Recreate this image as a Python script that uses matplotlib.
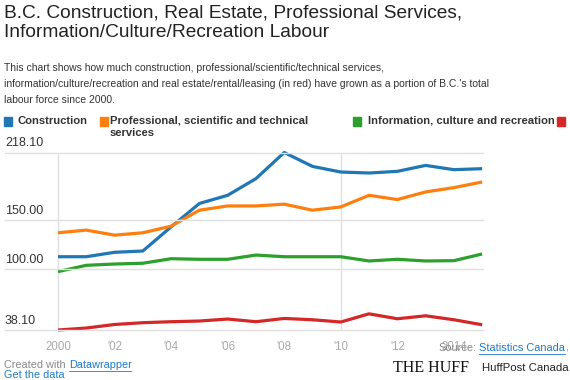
import matplotlib
matplotlib.use("Agg")
import matplotlib.pyplot as plt
import matplotlib.transforms as mtransforms

years = list(range(2000, 2016))
construction = [112.4, 112.4, 116.9, 118.2, 142.7, 166.4, 174.7, 191.6, 218.1,
                204.0, 198.3, 197.3, 199.0, 205.0, 200.7, 201.7]
professional = [136.7, 139.4, 134.3, 136.7, 143.4, 159.6, 163.9, 163.9, 165.7,
                159.6, 162.9, 174.7, 170.4, 178.1, 182.5, 188.2]
information = [97.3, 103.7, 105.0, 105.8, 110.4, 109.8, 109.8, 114.1, 112.4,
               112.4, 112.4, 108.1, 109.8, 108.1, 108.4, 115.2]
real_estate = [38.1, 40.1, 43.7, 45.5, 46.5, 47.2, 49.2, 46.5, 49.8,
               48.5, 46.2, 54.5, 49.5, 52.5, 48.5, 43.4]

series_names = ["Construction", "Professional, scientific and technical\nservices",
                "Information, culture and recreation", "Real estate, rental and leasing"]
series_values = [construction, professional, information, real_estate]
colors = ["#1f77b4", "#ff7f0e", "#2ca02c", "#d62728"]

y_ticks = [38.1, 100.0, 150.0, 218.1]
y_tick_labels = ["38.10", "100.00", "150.00", "218.10"]
x_ticks = [2000, 2002, 2004, 2006, 2008, 2010, 2012, 2014]
x_tick_labels = ["2000", "'02", "'04", "'06", "'08", "'10", "'12", "2014"]

W, H = 570, 380
fig = plt.figure(figsize=(W / 100, H / 100), dpi=100)
fig.patch.set_facecolor("white")
FONT = "Liberation Sans"
LINK = "#1f7bc4"

def fx(x):
    return x / W

def fy(y):
    return 1 - y / H

# axes placement (pixels)
ax_l, ax_r, ax_t, ax_b = 58, 483, 152.5, 330
ax = fig.add_axes([fx(ax_l), fy(ax_b), fx(ax_r - ax_l), (ax_b - ax_t) / H])
ax.set_xlim(2000, 2015.03)
ax.set_ylim(38.1, 218.1)
ax.axis("off")

# horizontal gridlines extending to the left edge
blend = mtransforms.blended_transform_factory(fig.transFigure, ax.transData)
for t in y_ticks:
    fig.add_artist(plt.Line2D([fx(5), fx(ax_r)], [t, t], color="#e0e0e0", lw=1.0,
                              zorder=1, transform=blend))
# vertical gridlines
for xv in [2000, 2010]:
    ax.plot([xv, xv], [38.1, 218.1], color="#e0e0e0", lw=1.0, clip_on=False, zorder=1)

for vals, c in zip(series_values, colors):
    ax.plot(years, vals, color=c, lw=2.3, clip_on=False, zorder=3,
            solid_joinstyle="round", solid_capstyle="butt")

# y tick labels (above gridlines, left side)
for t, lab in zip(y_ticks, y_tick_labels):
    ax.annotate(lab, xy=(fx(5), t), xycoords=("figure fraction", "data"),
                xytext=(0, 2.2), textcoords="offset points",
                ha="left", va="bottom", fontsize=9.0, color="#333333", family=FONT)

# x tick labels
for xv, lab in zip(x_ticks, x_tick_labels):
    ax.annotate(lab, xy=(xv, 38.1), xycoords="data", xytext=(0, -12),
                textcoords="offset points", ha="center", va="center",
                fontsize=8.3, color="#aaaaaa", family=FONT)

# title
fig.text(fx(4), fy(4), "B.C. Construction, Real Estate, Professional Services,\nInformation/Culture/Recreation Labour",
         ha="left", va="top", fontsize=13.8, color="#222222", family=FONT, linespacing=1.22)

# subtitle
fig.text(fx(4), fy(63), "This chart shows how much construction, professional/scientific/technical services,\n"
         "information/culture/recreation and real estate/rental/leasing (in red) have grown as a portion of B.C.'s total\n"
         "labour force since 2000.",
         ha="left", va="top", fontsize=7.5, color="#333333", family=FONT, linespacing=1.72)

# legend
leg_items = [(4, 18), (100, 110), (352.5, 367.5), (557, None)]
for (sx, tx), name, c in zip(leg_items, series_names, colors):
    fig.patches.append(plt.Rectangle((fx(sx), fy(125.5)), fx(8.3), 8.5 / H,
                                     transform=fig.transFigure, color=c, figure=fig))
    if tx is not None:
        fig.text(fx(tx), fy(115.5), name, ha="left", va="top", fontsize=8.15,
                 fontweight="bold", color="#333333", family=FONT, linespacing=1.25)

renderer = fig.canvas.get_renderer()

def text_width_px(t):
    return t.get_window_extent(renderer).width

# footer
FS = 7.8
t1 = fig.text(fx(4), fy(365), "Created with", ha="left", va="center", fontsize=FS,
              color="#888888", family=FONT)
x_dw = 4 + text_width_px(t1) + 3
t2 = fig.text(fx(x_dw), fy(365), "Datawrapper", ha="left", va="center", fontsize=FS,
              color=LINK, family=FONT)
t3 = fig.text(fx(4), fy(374.5), "Get the data", ha="left", va="center", fontsize=FS,
              color=LINK, family=FONT)
fig.add_artist(plt.Line2D([fx(x_dw), fx(x_dw + text_width_px(t2))], [fy(370.5), fy(370.5)],
                          color=LINK, lw=0.6))
fig.add_artist(plt.Line2D([fx(4), fx(4 + text_width_px(t3))], [fy(379.6), fy(379.6)],
                          color=LINK, lw=0.6))

FS2 = 7.9
s1 = fig.text(fx(438), fy(348), "Source:", ha="left", va="center", fontsize=FS2,
              color="#888888", family=FONT)
x_sc = 438 + text_width_px(s1) + 3
s2 = fig.text(fx(x_sc), fy(348), "Statistics Canada", ha="left", va="center", fontsize=FS2,
              color=LINK, family=FONT)
w2 = text_width_px(s2)
fig.text(fx(x_sc + w2 + 0.5), fy(348), ",", ha="left", va="center", fontsize=FS2,
         color="#888888", family=FONT)
fig.add_artist(plt.Line2D([fx(x_sc), fx(x_sc + w2)], [fy(353.5), fy(353.5)], color=LINK, lw=0.6))

fig.text(fx(393), fy(368.5), "THE HUFF", ha="left", va="center", fontsize=11.5,
         color="#111111", family="Liberation Serif")
fig.text(fx(482), fy(368), "HuffPost Canada", ha="left", va="center", fontsize=8.2,
         color="#222222", family=FONT,
         bbox=dict(facecolor="white", edgecolor="none", pad=0.8))

fig.savefig("out.png", dpi=100, facecolor="white")
